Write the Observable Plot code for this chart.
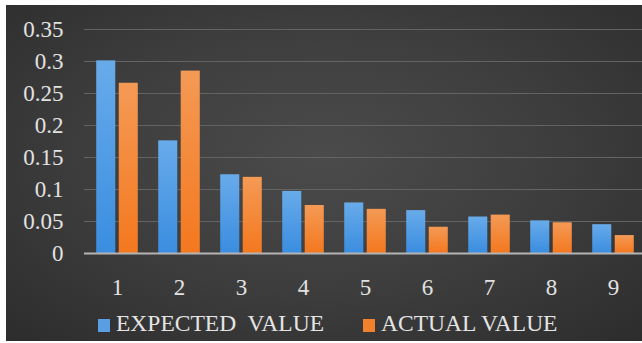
<!DOCTYPE html>
<html>
<head>
<meta charset="utf-8">
<script src="https://cdn.jsdelivr.net/npm/d3@7"></script>
<script src="https://cdn.jsdelivr.net/npm/@observablehq/plot@0.6"></script>
<style>
  html, body { margin: 0; padding: 0; background: #ffffff; width: 642px; height: 343px; overflow: hidden; }
  #panel {
    position: absolute; left: 6px; top: 5px; width: 636px; height: 336px;
    background: radial-gradient(ellipse 75% 80% at 50% 45%, #4b4b4b 0%, #3d3d3d 50%, #2b2b2b 100%);
    overflow: hidden;
  }
  #chart { position: absolute; left: -6px; top: -5px; }
  #chart svg, #chart svg text { font-family: "Liberation Serif", serif !important; }
  .legend-item { position: absolute; top: 305px; display: flex; align-items: center;
    font-family: "Liberation Serif", serif; font-size: 23.5px; color: #e4e4e4; white-space: pre; }
  .swatch { width: 12px; height: 13px; margin-right: 6px; margin-top: 3px; }
</style>
</head>
<body>
<div id="panel">
  <div id="chart"></div>
  <div class="legend-item" style="left:92px"><span class="swatch" style="background:#5a9fe4"></span><span id="lg0"></span></div>
  <div class="legend-item" style="left:357px"><span class="swatch" style="background:#f2812e"></span><span id="lg1"></span></div>
</div>
<script>
const digits = ["1", "2", "3", "4", "5", "6", "7", "8", "9"];
const expectedValues = [0.301, 0.176, 0.123, 0.097, 0.079, 0.067, 0.057, 0.051, 0.045];
const actualValues = [0.266, 0.285, 0.119, 0.075, 0.069, 0.041, 0.060, 0.048, 0.028];
const seriesNames = ["EXPECTED  VALUE", "ACTUAL VALUE"];
const yTicks = [0, 0.05, 0.1, 0.15, 0.2, 0.25, 0.3, 0.35];

const expectedData = digits.map((d, i) => ({digit: d, value: expectedValues[i]}));
const actualData = digits.map((d, i) => ({digit: d, value: actualValues[i]}));

const barW = 19.5, gap = 3, step = (646 - 84) / digits.length;
const outer = step / 2 - gap / 2 - barW;
const inner = step / 2 + gap / 2;

const chart = Plot.plot({
  width: 642,
  height: 300,
  marginLeft: 84,
  marginRight: -4,
  marginTop: 29,
  marginBottom: 47,
  style: {background: "transparent", color: "#e0e0e0", fontFamily: "Liberation Serif", overflow: "visible"},
  x: {domain: digits, padding: 0, label: null},
  y: {domain: [0, 0.35], label: null},
  marks: [
    Plot.gridY(yTicks, {stroke: "#636363", strokeOpacity: 1, strokeWidth: 1.2}),
    Plot.barY(expectedData, {x: "digit", y: "value", fill: "url(#gradBlue)", insetLeft: outer, insetRight: inner}),
    Plot.barY(actualData, {x: "digit", y: "value", fill: "url(#gradOrange)", insetLeft: inner, insetRight: outer}),
    Plot.ruleY([0], {stroke: "#b4b4b4", strokeWidth: 2}),
    Plot.axisY(yTicks, {tickSize: 0, tickPadding: 21, fontSize: 23, fill: "#e2e2e2", tickFormat: d => String(d), label: null}),
    Plot.axisX({tickSize: 0, tickPadding: 25, fontSize: 23, fill: "#e2e2e2", label: null})
  ]
});

const svg = d3.select(chart);
const defs = svg.insert("defs", ":first-child");
const gb = defs.append("linearGradient").attr("id", "gradBlue").attr("x1", 0).attr("y1", 0).attr("x2", 0).attr("y2", 1);
gb.append("stop").attr("offset", "0%").attr("stop-color", "#68abea");
gb.append("stop").attr("offset", "100%").attr("stop-color", "#3a8de0");
const go = defs.append("linearGradient").attr("id", "gradOrange").attr("x1", 0).attr("y1", 0).attr("x2", 0).attr("y2", 1);
go.append("stop").attr("offset", "0%").attr("stop-color", "#f49a55");
go.append("stop").attr("offset", "100%").attr("stop-color", "#f4781f");

document.getElementById("chart").appendChild(chart);
document.getElementById("lg0").textContent = seriesNames[0];
document.getElementById("lg1").textContent = seriesNames[1];
</script>
</body>
</html>
